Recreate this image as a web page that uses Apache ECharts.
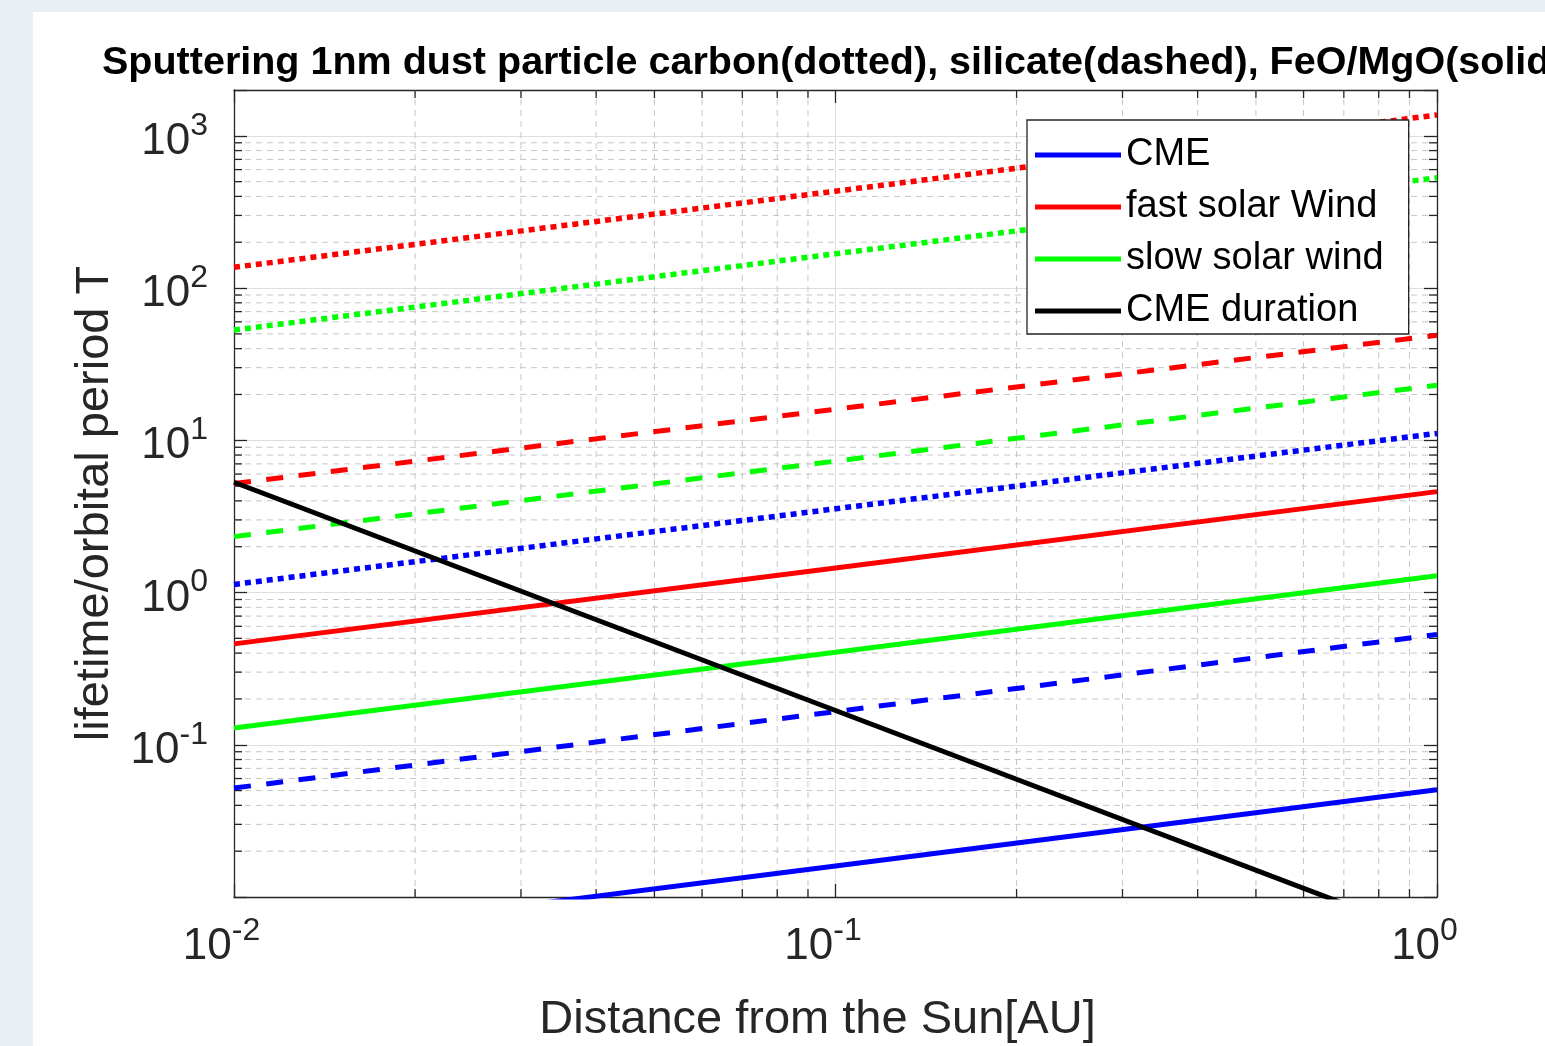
<!DOCTYPE html>
<html>
<head>
<meta charset="utf-8">
<script src="https://cdn.jsdelivr.net/npm/echarts@6/dist/echarts.min.js"></script>
<style>
html, body { margin: 0; padding: 0; width: 1545px; height: 1046px; overflow: hidden; background: #e8f0f4; }
#main { position: absolute; left: 33px; top: 12px; width: 1512px; height: 1034px; background: #fff; }
</style>
</head>
<body>
<div id="main"></div>
<script>
// distance from the Sun [AU]
var distance = [0.01, 0.1, 1];

// carbon (dotted)
var carbonCME  = [1.13, 3.55, 11.1];
var carbonFast = [137, 433, 1370];
var carbonSlow = [53, 168, 530];

// silicate (dashed)
var silicateCME  = [0.052, 0.165, 0.53];
var silicateFast = [5.2, 16, 49];
var silicateSlow = [2.33, 7.3, 23];

// FeO/MgO (solid)
var feoCME  = [0.00506, 0.016, 0.0506];
var feoFast = [0.46, 1.45, 4.6];
var feoSlow = [0.129, 0.405, 1.29];

// CME duration
var cmeDuration = [5.3, 0.168, 0.0053];

// minor grid positions
var xMinor = [0.02, 0.03, 0.04, 0.05, 0.06, 0.07, 0.08, 0.09,
              0.2, 0.3, 0.4, 0.5, 0.6, 0.7, 0.8, 0.9];
var yMinor = [0.02, 0.03, 0.04, 0.05, 0.06, 0.07, 0.08, 0.09,
              0.2, 0.3, 0.4, 0.5, 0.6, 0.7, 0.8, 0.9,
              2, 3, 4, 5, 6, 7, 8, 9,
              20, 30, 40, 50, 60, 70, 80, 90,
              200, 300, 400, 500, 600, 700, 800, 900];

var FONT = '"Liberation Sans", Arial, Helvetica, sans-serif';
var AXIS_COLOR = '#262626';
var DOTTED = [6, 5];
var DASHED = [17, 15.5];

var myChart = echarts.init(document.getElementById('main'));

function pts(ys) {
    return distance.map(function (x, i) { return [x, ys[i]]; });
}

// "10^n" tick labels, exponent as raised rich text
function powLabel(hideExp) {
    return function (value) {
        var e = Math.log10(value);
        var r = Math.round(e);
        if (Math.abs(e - r) > 1e-6 || r === hideExp) return '';
        return '{b|10}{s|' + r + '}';
    };
}

function lineSeries(name, ys, color, dash, width) {
    return {
        name: name,
        type: 'line',
        data: pts(ys),
        symbol: 'none',
        showSymbol: false,
        silent: true,
        z: 3,
        itemStyle: { color: color },
        lineStyle: { color: color, width: width || 5, type: dash, cap: 'butt' }
    };
}

// minor grid + minor ticks, drawn through the axes
function renderXMinor(params, api) {
    var cs = params.coordSys;
    var px = api.coord([api.value(0), 1])[0];
    var top = cs.y, bottom = cs.y + cs.height;
    return {
        type: 'group',
        children: [
            { type: 'line', shape: { x1: px, y1: bottom, x2: px, y2: top }, style: { stroke: '#c6c6c6', lineWidth: 1, lineDash: [6, 5] } },
            { type: 'line', shape: { x1: px, y1: bottom, x2: px, y2: bottom - 8 }, style: { stroke: AXIS_COLOR, lineWidth: 1.3 } },
            { type: 'line', shape: { x1: px, y1: top, x2: px, y2: top + 8 }, style: { stroke: AXIS_COLOR, lineWidth: 1.3 } }
        ]
    };
}
function renderYMinor(params, api) {
    var cs = params.coordSys;
    var py = api.coord([0.1, api.value(1)])[1];
    var left = cs.x, right = cs.x + cs.width;
    return {
        type: 'group',
        children: [
            { type: 'line', shape: { x1: left, y1: py, x2: right, y2: py }, style: { stroke: '#c6c6c6', lineWidth: 1, lineDash: [6, 5] } },
            { type: 'line', shape: { x1: left, y1: py, x2: left + 8, y2: py }, style: { stroke: AXIS_COLOR, lineWidth: 1.3 } },
            { type: 'line', shape: { x1: right, y1: py, x2: right - 8, y2: py }, style: { stroke: AXIS_COLOR, lineWidth: 1.3 } }
        ]
    };
}

var axisLine = { show: true, onZero: false, lineStyle: { color: AXIS_COLOR, width: 1.3 } };
var axisTick = { show: true, inside: true, length: 13, lineStyle: { color: AXIS_COLOR, width: 1.3 } };

var option = {
    animation: false,
    title: {
        text: 'Sputtering 1nm dust particle carbon(dotted), silicate(dashed), FeO/MgO(solid)',
        left: 69,
        top: 31,
        padding: 0,
        textStyle: { fontFamily: FONT, fontSize: 39.5, fontWeight: 'bold', color: '#000', lineHeight: 40 }
    },
    legend: {
        data: ['CME', 'fast solar Wind', 'slow solar wind', 'CME duration'],
        orient: 'vertical',
        left: 994,
        top: 108,
        icon: 'rect',
        itemWidth: 86,
        itemHeight: 5,
        itemGap: 8,
        selectedMode: false,
        backgroundColor: '#fff',
        borderColor: AXIS_COLOR,
        borderWidth: 1.3,
        borderRadius: 0,
        padding: [13, 25, 1, 8],
        itemStyle: { borderWidth: 0 },
        textStyle: { fontFamily: FONT, fontSize: 38, lineHeight: 44, color: '#000' }
    },
    grid: {
        left: 201,
        top: 78,
        width: 1203,
        height: 807,
        containLabel: false,
        outerBoundsMode: 'none'
    },
    xAxis: [
        {
            type: 'log',
            logBase: 10,
            min: 0.01,
            max: 1,
            position: 'bottom',
            axisLine: axisLine,
            axisTick: axisTick,
            splitLine: { show: true, lineStyle: { color: '#dedede', width: 1 } },
            axisLabel: {
                margin: 22,
                showMinLabel: true,
                showMaxLabel: true,
                formatter: powLabel(null),
                rich: {
                    b: { fontFamily: FONT, fontSize: 44, lineHeight: 44, color: AXIS_COLOR, padding: [12, 0, 0, 0] },
                    s: { fontFamily: FONT, fontSize: 32, lineHeight: 32, color: AXIS_COLOR, padding: [0, 25, 20, 0] }
                }
            },
            name: 'Distance from the Sun[AU]',
            nameLocation: 'middle',
            nameGap: 98,
            nameTextStyle: { fontFamily: FONT, fontSize: 47, lineHeight: 50, color: AXIS_COLOR, padding: [0, 36, 0, 0] }
        },
        {
            type: 'log',
            logBase: 10,
            min: 0.01,
            max: 1,
            position: 'top',
            axisLine: axisLine,
            axisTick: axisTick,
            axisLabel: { show: false },
            splitLine: { show: false }
        }
    ],
    yAxis: [
        {
            type: 'log',
            logBase: 10,
            min: 0.01,
            max: 2000,
            position: 'left',
            axisLine: axisLine,
            axisTick: axisTick,
            splitLine: { show: true, lineStyle: { color: '#dedede', width: 1 } },
            axisLabel: {
                margin: 26,
                formatter: powLabel(-2),
                rich: {
                    b: { fontFamily: FONT, fontSize: 44, lineHeight: 44, color: AXIS_COLOR, padding: [12, 0, 0, 0] },
                    s: { fontFamily: FONT, fontSize: 32, lineHeight: 32, color: AXIS_COLOR, padding: [0, 0, 20, 0] }
                }
            },
            name: 'lifetime/orbital period T',
            nameLocation: 'middle',
            nameGap: 103,
            nameTextStyle: { fontFamily: FONT, fontSize: 47, lineHeight: 50, color: AXIS_COLOR, padding: [0, 20, 0, 0] }
        },
        {
            type: 'log',
            logBase: 10,
            min: 0.01,
            max: 2000,
            position: 'right',
            axisLine: axisLine,
            axisTick: axisTick,
            axisLabel: { show: false },
            splitLine: { show: false }
        }
    ],
    series: [
        {
            type: 'custom',
            name: 'xminor',
            silent: true,
            z: 1,
            data: xMinor.map(function (v) { return [v, 1]; }),
            renderItem: renderXMinor
        },
        {
            type: 'custom',
            name: 'yminor',
            silent: true,
            z: 1,
            data: yMinor.map(function (v) { return [0.1, v]; }),
            renderItem: renderYMinor
        },
        lineSeries('CME', feoCME, '#0000ff', 'solid'),
        lineSeries('fast solar Wind', feoFast, '#ff0000', 'solid'),
        lineSeries('slow solar wind', feoSlow, '#00ff00', 'solid'),
        lineSeries('CME silicate', silicateCME, '#0000ff', DASHED),
        lineSeries('fast silicate', silicateFast, '#ff0000', DASHED),
        lineSeries('slow silicate', silicateSlow, '#00ff00', DASHED),
        lineSeries('CME carbon', carbonCME, '#0000ff', DOTTED, 5.5),
        lineSeries('fast carbon', carbonFast, '#ff0000', DOTTED, 5.5),
        lineSeries('slow carbon', carbonSlow, '#00ff00', DOTTED, 5.5),
        lineSeries('CME duration', cmeDuration, '#000000', 'solid')
    ]
};

myChart.setOption(option);
</script>
</body>
</html>
